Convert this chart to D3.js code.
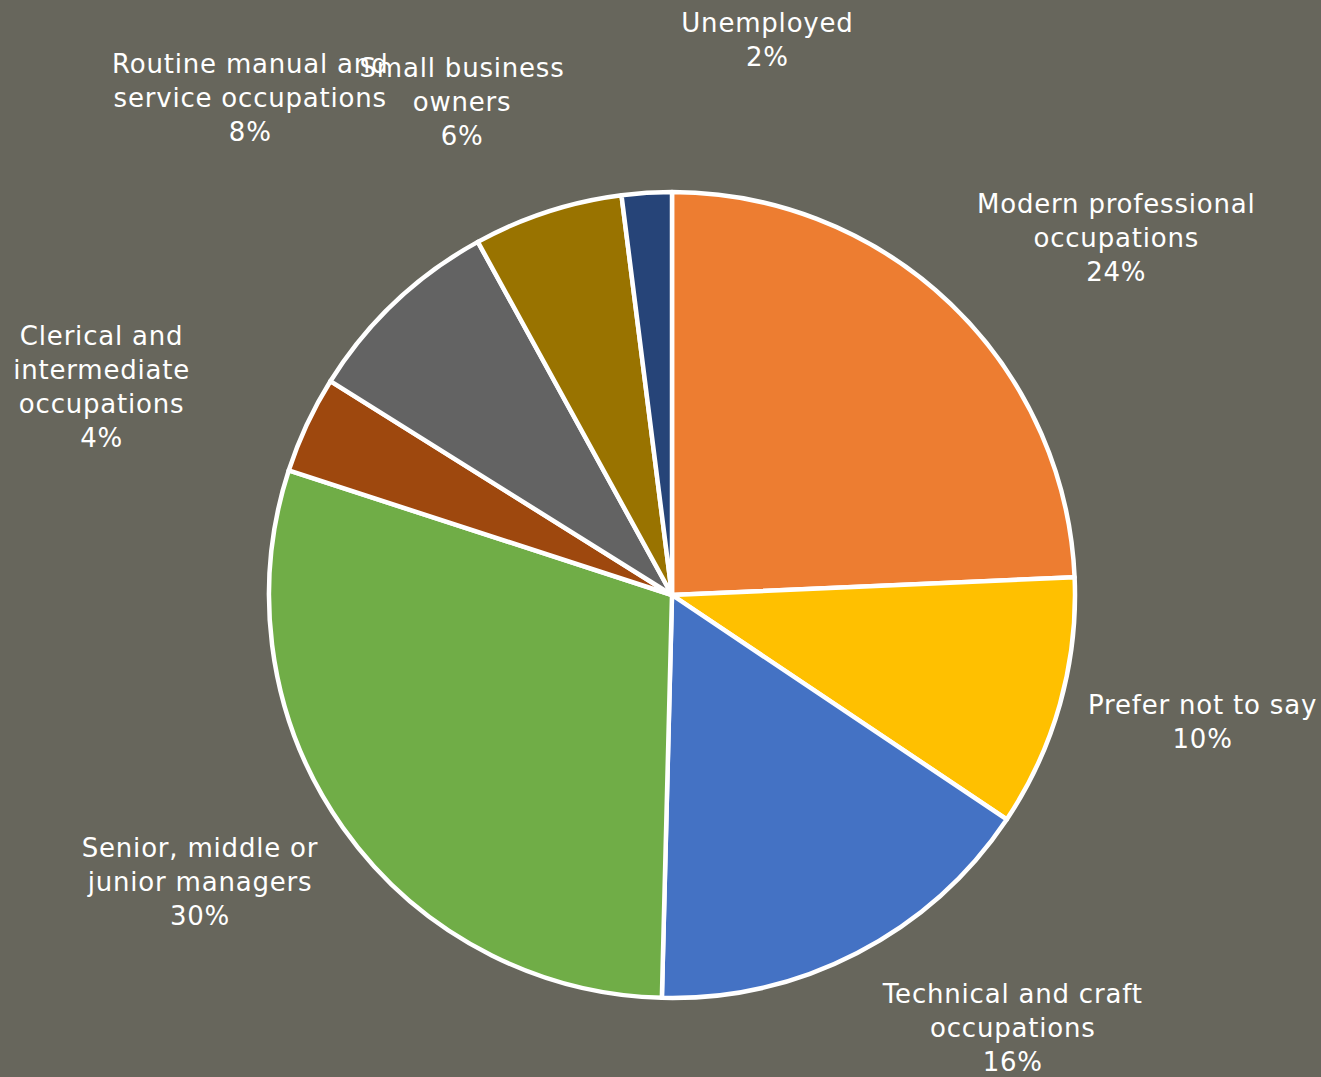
<!DOCTYPE html>
<html>
<head>
<meta charset="utf-8">
<script src="https://cdn.jsdelivr.net/npm/d3@7"></script>
<style>
  html, body { margin: 0; padding: 0; background: #67665c; }
  svg { display: block; }
</style>
</head>
<body>
<svg id="chart" width="1321" height="1077"></svg>
<script>
// ---- data ----
const categories = [
  "Modern professional occupations",
  "Prefer not to say",
  "Technical and craft occupations",
  "Senior, middle or junior managers",
  "Clerical and intermediate occupations",
  "Routine manual and service occupations",
  "Small business owners",
  "Unemployed"
];
const values = [24.3, 10.1, 16.0, 29.6, 3.9, 8.1, 6.0, 2.0];
const labelLines = [
  ["Modern professional", "occupations"],
  ["Prefer not to say"],
  ["Technical and craft", "occupations"],
  ["Senior, middle or", "junior managers"],
  ["Clerical and", "intermediate", "occupations"],
  ["Routine manual and", "service occupations"],
  ["Small business", "owners"],
  ["Unemployed"]
];
const colors = ["#ED7D31", "#FFC000", "#4472C4", "#70AD47", "#9E480E", "#636363", "#997300", "#264478"];

// ---- layout (label nudges relative to arc-based position) ----
const labelNudge = [[64, 40], [1, -21], [88, -55], [-23, -31], [-72, 25], [-44, -97], [-40, 30], [130, -6]];

const svg = d3.select("#chart");
const cx = 672, cy = 595, R = 403;
const g = svg.append("g").attr("transform", `translate(${cx},${cy})`);

const pie = d3.pie().sort(null).value(d => d);
const arcs = pie(values);
const arc = d3.arc().innerRadius(0).outerRadius(R);
const labelArc = d3.arc().innerRadius(550).outerRadius(550);

g.selectAll("path.slice")
  .data(arcs)
  .enter().append("path")
  .attr("class", "slice")
  .attr("d", arc)
  .attr("fill", (d, i) => colors[i])
  .attr("stroke", "#ffffff")
  .attr("stroke-width", 4.5)
  .attr("stroke-linejoin", "round");

const total = d3.sum(values);
const pct = v => Math.round(v / total * 100) + "%";
const lineH = 34;
g.selectAll("text.label")
  .data(arcs)
  .enter().append("text")
  .attr("class", "label")
  .attr("fill", "#ffffff")
  .attr("font-family", "'DejaVu Sans', sans-serif")
  .attr("font-size", 26)
  .attr("letter-spacing", 0.8)
  .attr("text-anchor", "middle")
  .each(function(d, i) {
    const c = labelArc.centroid(d);
    const x = c[0] + labelNudge[i][0];
    const y = c[1] + labelNudge[i][1];
    const lines = labelLines[i].concat([pct(d.value)]);
    const n = lines.length;
    const t = d3.select(this);
    lines.forEach((s, j) => {
      t.append("tspan")
        .attr("x", x)
        .attr("y", y + (j - (n - 1) / 2) * lineH)
        .attr("dominant-baseline", "central")
        .text(s);
    });
  });
</script>
</body>
</html>
